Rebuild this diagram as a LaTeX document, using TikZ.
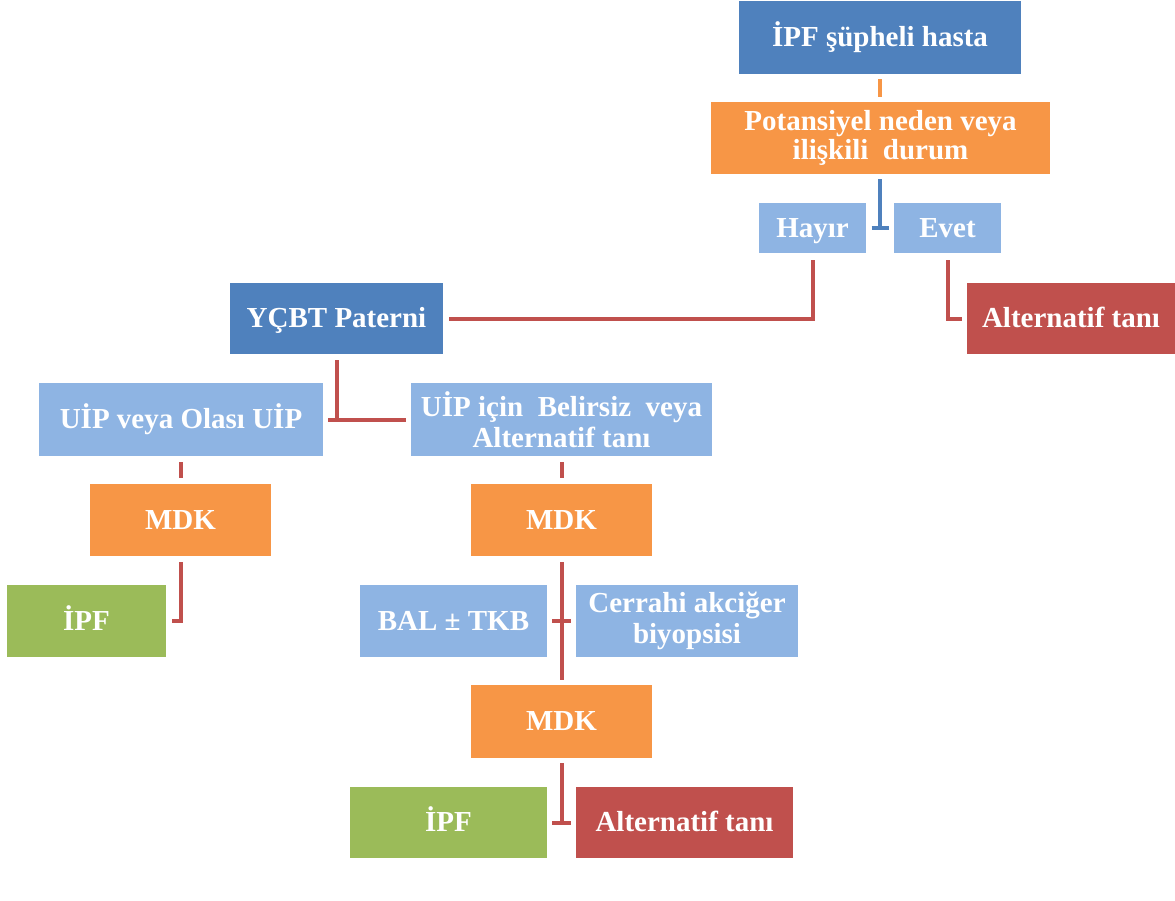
\documentclass[tikz,border=0pt]{standalone}
\usepackage{fontspec}
\setmainfont{Liberation Serif}
\usepackage{xcolor}
\usepackage{tikz}
\usetikzlibrary{positioning}
\usetikzlibrary{calc}

\definecolor{boxblue}{HTML}{4F81BD}
\definecolor{boxlight}{HTML}{8EB4E3}
\definecolor{boxorange}{HTML}{F79646}
\definecolor{boxred}{HTML}{C0504D}
\definecolor{boxgreen}{HTML}{9BBB59}

\tikzset{
  box/.style={rectangle, inner sep=0pt, align=center, text=white,
    text height=13.5pt, text depth=3pt,
    font=\bfseries\fontsize{16.5}{16.5}\selectfont},
  twoline/.style={text height={}, text depth={}},
  darkbox/.style={box, fill=boxblue},
  lightbox/.style={box, fill=boxlight},
  orangebox/.style={box, fill=boxorange},
  redbox/.style={box, fill=boxred},
  greenbox/.style={box, fill=boxgreen},
  link/.style={draw=boxred, line width=0.08cm, shorten <=0.12cm, shorten >=0.12cm}
}

\begin{document}
\begin{tikzpicture}
\useasboundingbox (0,0) rectangle (23.5,-18);

\node[darkbox, minimum width=5.64cm, minimum height=1.46cm] (hasta0) at (17.6,-0.75) {İPF şüpheli hasta};
\node[orangebox, twoline, minimum width=6.78cm, minimum height=1.44cm] (neden0) at (17.61,-2.76) {Potansiyel neden veya\\ilişkili\ \ durum};
\node[lightbox, minimum width=2.14cm, minimum height=1cm] (hayir0) at (16.25,-4.56) {Hayır};
\node[lightbox, minimum width=2.14cm, minimum height=1cm] (evet0) at (18.95,-4.56) {Evet};

\node[darkbox, minimum width=4.26cm, minimum height=1.42cm] (ycbt0) at (6.73,-6.37) {YÇBT Paterni};
\node[redbox, minimum width=4.16cm, minimum height=1.42cm] (alt0) at (21.42,-6.37) {Alternatif tanı};

\node[lightbox, minimum width=5.68cm, minimum height=1.46cm] (uip0) at (3.62,-8.39) {UİP veya Olası UİP};
\node[lightbox, twoline, minimum width=6.02cm, minimum height=1.46cm, font=\bfseries\fontsize{16.5}{17.5}\selectfont] (belirsiz0) at (11.23,-8.39) {UİP için\ \ Belirsiz\ \ veya\\Alternatif tanı};

\node[orangebox, minimum width=3.62cm, minimum height=1.44cm] (mdk0) at (3.61,-10.4) {MDK};
\node[orangebox, minimum width=3.62cm, minimum height=1.44cm] (mdk1) at (11.23,-10.4) {MDK};

\node[greenbox, minimum width=3.18cm, minimum height=1.44cm] (ipf0) at (1.73,-12.42) {İPF};
\node[lightbox, minimum width=3.74cm, minimum height=1.44cm] (bal0) at (9.07,-12.42) {BAL ± TKB};
\node[lightbox, twoline, minimum width=4.44cm, minimum height=1.44cm, font=\bfseries\fontsize{16.5}{17.5}\selectfont] (cerrahi0) at (13.74,-12.42) {Cerrahi akciğer\\biyopsisi};

\node[orangebox, minimum width=3.62cm, minimum height=1.46cm] (mdk2) at (11.23,-14.43) {MDK};
\node[greenbox, minimum width=3.94cm, minimum height=1.42cm] (ipf1) at (8.97,-16.45) {İPF};
\node[redbox, minimum width=4.34cm, minimum height=1.42cm] (alt1) at (13.69,-16.45) {Alternatif tanı};

\coordinate (split0) at ($(hayir0.east)!0.5!(evet0.west)$);
\coordinate (split1) at (ycbt0.south |- uip0.east);
\coordinate (split2) at (mdk2.south |- ipf1.east);

\draw[link, draw=boxorange, shorten <=0.1cm, shorten >=0.1cm] (hasta0.south) -- (hasta0.south |- neden0.north);
\draw[link, draw=boxblue, shorten <=0.1cm, shorten >=-0.04cm] (split0 |- neden0.south) -- (split0);
\draw[link, draw=boxblue, shorten <=0pt, shorten >=0pt] ([xshift=-0.17cm]split0) -- ([xshift=0.17cm]split0);

\draw[link, shorten <=0.14cm] (hayir0.south) |- (ycbt0.east);
\draw[link, shorten <=0.14cm, shorten >=0.1cm] (evet0.south) |- (alt0.west);

\draw[link, shorten >=-0.02cm] (ycbt0.south) -- (split1);
\draw[link, shorten <=0.1cm, shorten >=0.1cm] (uip0.east) -- (belirsiz0.west);
%\draw[link] (split1) -- (belirsiz0.west);

\draw[link] (uip0.south) -- (uip0.south |- mdk0.north);
\draw[link] (belirsiz0.south) -- (belirsiz0.south |- mdk1.north);
\draw[link] (mdk0.south) |- (ipf0.east);
\draw[link, shorten >=0.1cm] (mdk1.south) -- (mdk2.north);
\draw[link, shorten <=0.1cm, shorten >=0.1cm] (bal0.east) -- (cerrahi0.west);

\draw[link, shorten <=0.1cm, shorten >=0pt] (mdk2.south) -- (split2);
\draw[link, shorten <=0.1cm, shorten >=0.1cm] (ipf1.east) -- (alt1.west);
\end{tikzpicture}
\end{document}
